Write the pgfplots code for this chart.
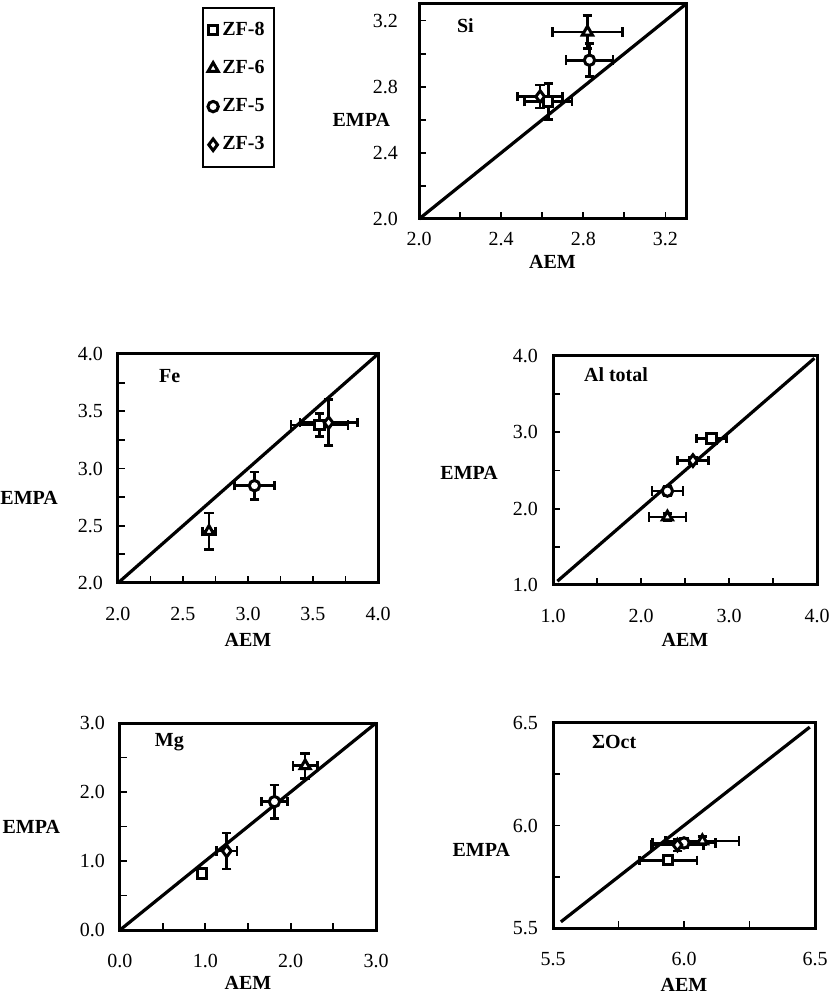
\documentclass[border=0pt]{standalone}
\usepackage{fontspec}
\setmainfont{Liberation Serif}
\usepackage{pgfplots}
\pgfplotsset{compat=1.18}

\tikzset{ttl/.style={anchor=west, font=\bfseries\fontsize{10}{12}\selectfont}}
\pgfplotsset{
  panel/.style={
    scale only axis,
    clip=false,
    axis line style={line width=1.5pt},
    tick align=inside,
    tick pos=left,
    major tick length=3.5pt,
    minor tick length=3.5pt,
    every tick/.style={black, line width=0.9pt},
    tick label style={font=\fontsize{10}{12}\selectfont},
    /pgf/number format/.cd, fixed, fixed zerofill, precision=1, assume math mode=true,
    /pgfplots/.cd,
    xlabel={AEM}, ylabel={EMPA},
  },
  xlab/.style={every axis x label/.style={at={(axis description cs:0.5,#1)}, anchor=center,
     font=\bfseries\fontsize{10}{12}\selectfont}},
  ylab/.style 2 args={every axis y label/.style={at={(axis description cs:#1,#2)}, anchor=east,
     font=\bfseries\fontsize{10}{12}\selectfont}},
  diag/.style={line width=1.6pt, black, forget plot},
  ser/.style={only marks, black, mark options={solid, fill=white, draw=black, line width=1.5pt},
    error bars/.cd, x dir=both, x explicit, y dir=both, y explicit,
    error bar style={line width=1.3pt, black},
    error mark options={rotate=90, line width=1.3pt, mark size=2.4pt, black},
    /pgfplots/.cd},
  zf8/.style={ser, mark=square*, mark size=2.3pt},
  zf6/.style={ser, mark=triangle*, mark size=2.9pt},
  zf5/.style={ser, mark=*, mark size=2.6pt},
  zf3/.style={ser, mark=diamond*, mark size=2.9pt},
}

\begin{document}
\begin{tikzpicture}
\path[use as bounding box] (0,0) rectangle (415pt,497.5pt);

% ---------------- Si ----------------
\begin{axis}[panel, at={(209.5pt,388pt)}, anchor=south west,
  width=133.5pt, height=107.5pt,
  xmin=2, xmax=3.3, ymin=2, ymax=3.3,
  xtick={2.0,2.4,2.8,3.2}, minor xtick={2.2,2.6,3.0},
  ytick={2.0,2.4,2.8,3.2}, minor ytick={2.2,2.6,3.0},
  xticklabel style={yshift=-3pt}, yticklabel style={xshift=-7pt},
  xlab=-0.2, ylab={-0.082}{0.46},
  legend style={at={(axis description cs:-0.813,0.986)}, anchor=north west,
    draw=black, line width=1pt, font=\bfseries\fontsize{10}{12}\selectfont,
    row sep=7pt, inner xsep=2.5pt, inner ysep=5pt},
  legend cell align=left,
  legend image code/.code={\draw[#1] plot coordinates {(5pt,0pt)};},
]
\addplot[diag] coordinates {(2,2) (3.3,3.3)};
\addplot[zf8] coordinates {(2.63,2.71) +- (0.115,0.11)};
\addplot[zf6] coordinates {(2.82,3.13) +- (0.17,0.10)};
\addplot[zf5] coordinates {(2.83,2.96) +- (0.115,0.10)};
\addplot[zf3] coordinates {(2.59,2.74) +- (0.11,0.07)};
\legend{ZF-8, ZF-6, ZF-5, ZF-3}
\node[ttl] at (axis description cs:0.116,0.898) {Si};
\end{axis}

% ---------------- Fe ----------------
\begin{axis}[panel, at={(59pt,206pt)}, anchor=south west,
  width=130pt, height=114.5pt,
  xmin=2, xmax=4, ymin=2, ymax=4,
  xtick={2.0,2.5,3.0,3.5,4.0}, minor xtick={2.25,2.75,3.25,3.75},
  ytick={2.0,2.5,3.0,3.5,4.0}, minor ytick={2.25,2.75,3.25,3.75},
  xticklabel style={yshift=-8.5pt}, yticklabel style={xshift=-4pt},
  xlab=-0.25, ylab={-0.204}{0.371},
]
\addplot[diag] coordinates {(2,2) (4,4)};
\addplot[zf8] coordinates {(3.55,3.38) +- (0.22,0.10)};
\addplot[zf6] coordinates {(2.70,2.45) +- (0.05,0.16)};
\addplot[zf5] coordinates {(3.05,2.85) +- (0.155,0.12)};
\addplot[zf3] coordinates {(3.62,3.40) +- (0.22,0.20)};
\node[ttl] at (axis description cs:0.131,0.904) {Fe};
\end{axis}

% ---------------- Al total ----------------
\begin{axis}[panel, at={(276.5pt,205pt)}, anchor=south west,
  width=132pt, height=114.5pt,
  xmin=1, xmax=4, ymin=1, ymax=4,
  xtick={1.0,2.0,3.0,4.0}, minor xtick={1.5,2.5,3.5},
  ytick={1.0,2.0,3.0,4.0}, minor ytick={1.5,2.5,3.5},
  xticklabel style={yshift=-8.5pt}, yticklabel style={xshift=-4pt},
  xlab=-0.24, ylab={-0.182}{0.49},
]
\addplot[diag] coordinates {(1.05,1.05) (3.97,3.97)};
\addplot[zf8] coordinates {(2.80,2.92) +- (0.17,0.04)};
\addplot[zf6] coordinates {(2.30,1.89) +- (0.21,0.05)};
\addplot[zf5] coordinates {(2.30,2.23) +- (0.175,0.06)};
\addplot[zf3] coordinates {(2.59,2.63) +- (0.175,0.04)};
\node[ttl] at (axis description cs:0.091,0.917) {Al total};
\end{axis}

% ---------------- Mg ----------------
\begin{axis}[panel, at={(60pt,32.5pt)}, anchor=south west,
  width=128pt, height=103.5pt,
  xmin=0, xmax=3, ymin=0, ymax=3,
  xtick={0.0,1.0,2.0,3.0}, minor xtick={0.5,1.5,2.5},
  ytick={0.0,1.0,2.0,3.0}, minor ytick={0.5,1.5,2.5},
  xticklabel style={yshift=-8.5pt}, yticklabel style={xshift=-4pt},
  xlab=-0.256, ylab={-0.207}{0.50},
]
\addplot[diag] coordinates {(0,0) (3,3)};
\addplot[zf8] coordinates {(0.96,0.82) +- (0.03,0.08)};
\addplot[zf6] coordinates {(2.17,2.38) +- (0.145,0.18)};
\addplot[zf5] coordinates {(1.81,1.86) +- (0.155,0.24)};
\addplot[zf3] coordinates {(1.25,1.145) +- (0.12,0.26)};
\node[ttl] at (axis description cs:0.109,0.908) {Mg};
\end{axis}

% ---------------- Sum Oct ----------------
\begin{axis}[panel, at={(276.5pt,33.5pt)}, anchor=south west,
  width=131pt, height=102.5pt,
  xmin=5.5, xmax=6.5, ymin=5.5, ymax=6.5,
  xtick={5.5,6.0,6.5}, minor xtick={5.75,6.25},
  ytick={5.5,6.0,6.5}, minor ytick={5.75,6.25},
  xticklabel style={yshift=-8.5pt}, yticklabel style={xshift=-4pt},
  xlab=-0.278, ylab={-0.137}{0.38},
]
\addplot[diag] coordinates {(5.53,5.53) (6.48,6.48)};
\addplot[zf8] coordinates {(5.94,5.83) +- (0.11,0.02)};
\addplot[zf6] coordinates {(6.07,5.925) +- (0.14,0.02)};
\addplot[zf5] coordinates {(6.00,5.915) +- (0.12,0.025)};
\addplot[zf3] coordinates {(5.975,5.905) +- (0.10,0.03)};
\node[ttl] at (axis description cs:0.122,0.907) {ΣOct};
\end{axis}
\end{tikzpicture}
\end{document}
